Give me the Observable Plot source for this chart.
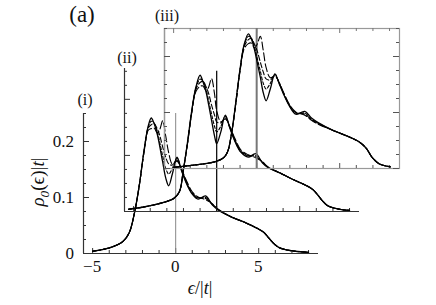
<!DOCTYPE html>
<html><head><meta charset="utf-8">
<script src="https://cdn.jsdelivr.net/npm/d3@7"></script>
<script src="https://cdn.jsdelivr.net/npm/@observablehq/plot@0.6"></script>
<style>
body{margin:0;background:#fff;}
#wrap{position:relative;width:436px;height:305px;overflow:hidden;color:#111;}
#wrap svg{position:absolute;left:0;top:0;}
.lbl{position:absolute;white-space:nowrap;line-height:1;color:#111;font-family:"Liberation Serif","Times New Roman",Times,"DejaVu Serif",serif;}
</style></head><body><div id="wrap"></div>
<script>
// ---- data ----
const xDomain = [-5.55, 8.6];
const xTickMinor = [-4,-3,-2,-1,1,2,3,4,6,7,8];
const xTickMajor = [-5,0,5];
const yTickMinor = [0.025,0.05,0.075,0.125,0.15,0.175,0.225,0.25];
const yTickMajor = [0,0.1,0.2];
const xTickLabels = ["\u22125","0","5"];
const yTickLabels = ["0","0.1","0.2"];
const panelNames = ["(i)","(ii)","(iii)"];

// panel (i)
const x1 = [-5,-4,-3.2,-2.8,-2.5,-2.2,-1.9,-1.65,-1.47,-1.3,-1.1,-0.95,-0.78,-0.6,-0.42,-0.2,0.08,0.35,0.65,1.0,1.35,1.8,2.2,2.6,3.3,4.2,4.9,5.3,5.6,5.9,6.2,6.6,7.2,8.0];
const solid1 = [0.004,0.010,0.021,0.037,0.07,0.12,0.185,0.228,0.242,0.232,0.212,0.19,0.163,0.135,0.121,0.142,0.172,0.148,0.125,0.106,0.097,0.103,0.087,0.077,0.066,0.055,0.045,0.038,0.028,0.018,0.011,0.007,0.004,0.002];
const dashA1 = [0.004,0.010,0.021,0.037,0.07,0.12,0.184,0.226,0.236,0.233,0.217,0.197,0.174,0.152,0.142,0.152,0.170,0.149,0.126,0.107,0.099,0.100,0.088,0.078,0.066,0.055,0.045,0.038,0.028,0.018,0.011,0.007,0.004,0.002];
const dashB1 = [0.004,0.010,0.021,0.037,0.07,0.12,0.183,0.224,0.230,0.232,0.222,0.210,0.190,0.172,0.160,0.158,0.167,0.150,0.128,0.108,0.100,0.098,0.088,0.078,0.066,0.055,0.045,0.038,0.028,0.018,0.011,0.007,0.004,0.002];
const dashL1 = [0.004,0.010,0.021,0.037,0.07,0.12,0.182,0.220,0.223,0.224,0.215,0.222,0.237,0.210,0.180,0.160,0.165,0.151,0.130,0.110,0.101,0.096,0.089,0.078,0.066,0.055,0.045,0.038,0.028,0.018,0.011,0.007,0.004,0.002];

// panel (ii)
const x2 = [-5.3,-4.4,-3.6,-3.0,-2.6,-2.25,-2.0,-1.75,-1.5,-1.25,-1.0,-0.83,-0.63,-0.48,-0.31,-0.13,0.0,0.25,0.52,0.8,1.1,1.45,1.9,2.35,2.75,3.1,3.8,4.6,5.35,5.8,6.1,6.4,6.7,7.1,7.6,8.0];
const solid2 = [0.004,0.008,0.013,0.018,0.023,0.035,0.075,0.125,0.18,0.222,0.243,0.232,0.212,0.19,0.163,0.135,0.121,0.142,0.172,0.148,0.125,0.106,0.097,0.103,0.087,0.078,0.069,0.057,0.047,0.039,0.029,0.018,0.01,0.006,0.003,0.002];
const dashA2 = [0.004,0.008,0.013,0.018,0.023,0.035,0.075,0.124,0.179,0.220,0.236,0.233,0.217,0.197,0.174,0.152,0.142,0.152,0.170,0.149,0.126,0.107,0.099,0.100,0.088,0.079,0.069,0.057,0.047,0.039,0.029,0.018,0.01,0.006,0.003,0.002];
const dashB2 = [0.004,0.008,0.013,0.018,0.023,0.035,0.075,0.123,0.178,0.218,0.230,0.232,0.222,0.210,0.190,0.172,0.160,0.158,0.167,0.150,0.128,0.108,0.100,0.098,0.088,0.079,0.069,0.057,0.047,0.039,0.029,0.018,0.01,0.006,0.003,0.002];
const dashL2 = [0.004,0.008,0.013,0.018,0.023,0.035,0.075,0.122,0.176,0.214,0.223,0.224,0.215,0.222,0.237,0.210,0.180,0.160,0.165,0.151,0.130,0.110,0.101,0.096,0.089,0.079,0.069,0.057,0.047,0.039,0.029,0.018,0.01,0.006,0.003,0.002];

// panel (iii)
const x3 = [-5.0,-3.8,-3.0,-2.4,-2.0,-1.75,-1.5,-1.25,-1.0,-0.75,-0.5,-0.33,-0.13,0.03,0.22,0.4,0.57,0.82,1.1,1.35,1.6,2.0,2.35,2.9,3.3,3.7,4.6,5.6,6.2,6.6,6.95,7.4,8.05];
const solid3 = [0.002,0.006,0.009,0.013,0.019,0.03,0.065,0.12,0.178,0.222,0.2405,0.232,0.212,0.19,0.163,0.135,0.121,0.142,0.169,0.152,0.134,0.11,0.097,0.102,0.09,0.082,0.068,0.056,0.047,0.036,0.02,0.008,0.003];
const dashA3 = [0.002,0.006,0.009,0.013,0.019,0.03,0.065,0.119,0.177,0.220,0.236,0.233,0.217,0.197,0.174,0.152,0.142,0.152,0.168,0.153,0.135,0.111,0.099,0.099,0.088,0.081,0.068,0.056,0.047,0.036,0.02,0.008,0.003];
const dashB3 = [0.002,0.006,0.009,0.013,0.019,0.03,0.065,0.118,0.176,0.218,0.230,0.232,0.222,0.210,0.190,0.172,0.160,0.158,0.166,0.153,0.136,0.112,0.100,0.097,0.087,0.080,0.068,0.056,0.047,0.036,0.02,0.008,0.003];
const dashL3 = [0.002,0.006,0.009,0.013,0.019,0.03,0.065,0.117,0.174,0.214,0.223,0.224,0.215,0.222,0.236,0.210,0.180,0.162,0.165,0.154,0.137,0.113,0.101,0.095,0.086,0.079,0.068,0.056,0.047,0.036,0.02,0.008,0.003];

// ---- layout & style ----
const W = 436, H = 305;
const lineStyles = [
  {w:1.3, dash:null},
  {w:1.1, dash:"3,2"},
  {w:1.1, dash:"5,2.5"},
  {w:1.1, dash:"8,3"}
];
const panels = [
  {xs:x1, series:[dashL1,dashB1,dashA1,solid1], left:83, right:318, top:113, bottom:253, yDomain:[0,0.25],
   axis:"#333", frame:false, vColor:"#888", vWidth:1, vTop:0.25},
  {xs:x2, series:[dashL2,dashB2,dashA2,solid2], left:124, right:359, top:68, bottom:211, yDomain:[0,0.255],
   axis:"#333", frame:false, vColor:"#111", vWidth:1.3, vTop:0.25},
  {xs:x3, series:[dashL3,dashB3,dashA3,solid3], left:164, right:399, top:28, bottom:168, yDomain:[0,0.25],
   axis:"#555", frame:true, vColor:"#777", vWidth:2, vTop:0.25}
];
const styleOrder = [3,2,1,0];

const wrap = document.getElementById("wrap");
panels.forEach(p => {
  const fw = p.right - p.left, fh = p.bottom - p.top;
  const marks = [];
  marks.push(Plot.ruleY([0], {stroke:p.axis, strokeWidth:1.2}));
  marks.push(Plot.ruleX([xDomain[0]], {stroke:p.axis, strokeWidth:1.2}));
  if (p.frame) {
    marks.push(Plot.frame({stroke:"#999", strokeWidth:1.2}));
    marks.push(Plot.tickX(xTickMinor, {x:d=>d, insetBottom:fh-3, stroke:"#777"}));
    marks.push(Plot.tickX(xTickMajor, {x:d=>d, insetBottom:fh-5, stroke:"#777"}));
    marks.push(Plot.tickY(yTickMinor, {y:d=>d, insetLeft:fw-3, stroke:"#555"}));
    marks.push(Plot.tickY(yTickMajor, {y:d=>d, insetLeft:fw-6, stroke:"#555"}));
  }
  marks.push(Plot.tickX(xTickMinor, {x:d=>d, insetTop:fh-3, stroke:p.axis}));
  marks.push(Plot.tickX(xTickMajor, {x:d=>d, insetTop:fh-5, stroke:p.axis}));
  marks.push(Plot.tickY(yTickMinor, {y:d=>d, insetRight:fw-3, stroke:p.axis}));
  marks.push(Plot.tickY(yTickMajor, {y:d=>d, insetRight:fw-6, stroke:p.axis}));
  marks.push(Plot.ruleX([0], {y1:0, y2:p.vTop, stroke:p.vColor, strokeWidth:p.vWidth}));
  p.series.forEach((ys, k) => {
    const st = lineStyles[styleOrder[k]];
    marks.push(Plot.line(p.xs.map((x,i)=>({x, y:ys[i]})), {
      x:"x", y:"y", stroke:"#000", strokeWidth:st.w,
      strokeDasharray:st.dash || undefined, curve:"catmull-rom"
    }));
  });
  const svg = Plot.plot({
    width:W, height:H,
    marginLeft:p.left, marginRight:W-p.right, marginTop:p.top, marginBottom:H-p.bottom,
    x:{domain:xDomain, axis:null}, y:{domain:p.yDomain, axis:null},
    style:{background:"transparent", overflow:"visible"},
    marks
  });
  wrap.appendChild(svg);
});

// ---- text ----
function label(html, x, y, size, ax, ay, extra) {
  const d = document.createElement("div");
  d.className = "lbl";
  d.innerHTML = html;
  d.style.left = x + "px";
  d.style.top = y + "px";
  d.style.fontSize = size + "px";
  d.style.transform = `translate(${ax}%,${ay}%)` + (extra || "");
  wrap.appendChild(d);
}
label("(a)", 82, 14, 23, -50, -50);
const nameXY = [[85,100],[127,58],[167,16]];
panelNames.forEach((n,i) => label(n, nameXY[i][0], nameXY[i][1], 16, -50, -50));
const p1 = panels[0];
const yScale = v => p1.bottom - (v - p1.yDomain[0]) / (p1.yDomain[1]-p1.yDomain[0]) * (p1.bottom - p1.top);
const xScale = v => p1.left + (v - xDomain[0]) / (xDomain[1]-xDomain[0]) * (p1.right - p1.left);
yTickMajor.forEach((v,i) => label(yTickLabels[i], 74, yScale(v), 17, -100, -50));
xTickMajor.forEach((v,i) => label(xTickLabels[i], xScale(v), 266, 17, -50, -50));
label("<i>\u03f5</i>/|<i>t</i>|", 200, 288, 18, -50, -50);
label("<i>\u03c1</i><sub style='font-size:70%;font-style:italic'>0</sub>(\u03f5)|<i>t</i>|", 40, 182, 19, -50, -50, " rotate(-90deg)");
</script></body></html>
